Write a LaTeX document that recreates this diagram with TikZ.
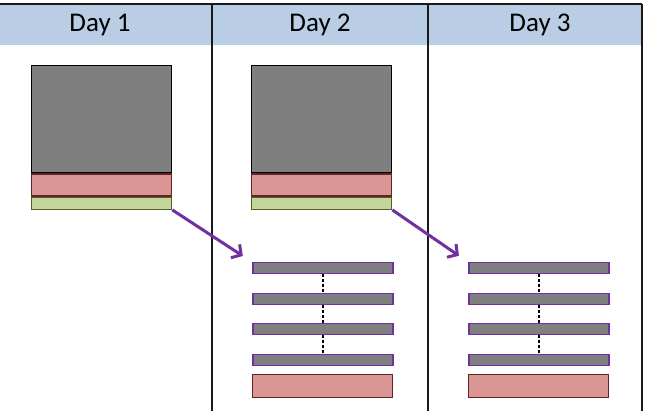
\documentclass[tikz,border=0pt]{standalone}
\usepackage{fontspec}
\setmainfont{Carlito}
\usetikzlibrary{arrows.meta,positioning}
\definecolor{kopf}{HTML}{B9CDE5}
\definecolor{grau}{HTML}{7F7F7F}
\definecolor{rot}{HTML}{D99694}
\definecolor{rotd}{HTML}{632523}
\definecolor{gruen}{HTML}{C3D69B}
\definecolor{gruend}{HTML}{4F6228}
\definecolor{lila}{HTML}{7030A0}
\tikzset{
  rand/.style={black!90,line width=1.8pt},
  tag/.style={font=\fontsize{27}{30}\selectfont},
  block/.style={fill=grau,draw=black,line width=1.3pt,minimum width=140pt,minimum height=107pt,anchor=north west,inner sep=0pt},
  rotbox/.style={fill=rot,draw=rotd,line width=1.3pt,minimum width=140pt,minimum height=22pt,anchor=north,inner sep=0pt},
  gruenbox/.style={fill=gruen,draw=gruend,line width=1.3pt,minimum width=140pt,minimum height=12pt,anchor=north,inner sep=0pt},
  balken/.style={fill=grau,draw=lila,line width=1.5pt,minimum width=140pt,minimum height=11pt,anchor=north west,inner sep=0pt},
  rotbalken/.style={fill=rot,draw=rotd,line width=1.3pt,minimum width=140pt,minimum height=23pt,anchor=north west,inner sep=0pt},
  pfeil/.style={-{Straight Barb[length=7pt,width=16pt]},lila,line width=3pt,shorten >=11pt},
  punkte/.style={black,line width=2.4pt,dash pattern=on 2.4pt off 2.6pt},
}
\begin{document}
\begin{tikzpicture}[x=1pt,y=-1pt]
  \useasboundingbox (0,0) rectangle (645,411);
  % Kopfzeile
  \fill[kopf] (0,4) rectangle (641,45);
  \draw[rand] (0,4)--(642,4);
  \draw[rand] (212,4)--(212,411);
  \draw[rand] (428,4)--(428,411);
  \draw[rand] (642,4)--(642,411);
  \node[tag] (d1) at (100,25) {Day 1};
  \node[tag] (d2) at (320,25) {Day 2};
  \node[tag] (d3) at (540,25) {Day 3};
  % Bloecke
  \node[block] (k1) at (31,65) {};
  \node[rotbox] (r1) at (k1.south) {};
  \node[gruenbox] (g1) at (r1.south) {};
  \node[block] (k2) at (251,65) {};
  \node[rotbox] (r2) at (k2.south) {};
  \node[gruenbox] (g2) at (r2.south) {};
  % Balken
  \foreach \i/\y in {1/262,2/293,3/323,4/354}{
    \node[balken] (a\i) at (252,\y) {};
    \node[balken] (b\i) at (468,\y) {};
  }
  \node[rotbalken] (ar) at (252,374) {};
  \node[rotbalken] (br) at (468,374) {};
  \foreach \i/\j in {1/2,2/3,3/4}{
    \draw[punkte] (a\i.south)--(a\j.north);
    \draw[punkte] (b\i.south)--(b\j.north);
  }
  % Pfeile
  \draw[pfeil] (g1.south east)--(a1.north west);
  \draw[pfeil] (g2.south east)--(b1.north west);
\end{tikzpicture}
\end{document}
